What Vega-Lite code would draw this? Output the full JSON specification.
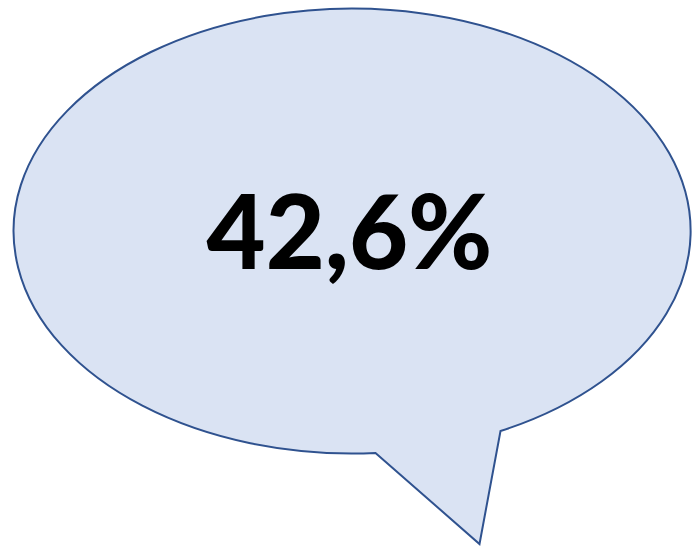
{
  "$schema": "https://vega.github.io/schema/vega-lite/v6.json",
  "width": 692,
  "height": 555,
  "autosize": {"type": "fit", "contains": "padding"},
  "padding": 0,
  "background": "white",
  "config": {"view": {"stroke": null}},
  "data": {"values": [{"label": "42,6%"}]},
  "encoding": {
    "x": {"field": "label", "type": "nominal", "axis": null},
    "y": {"field": "label", "type": "nominal", "axis": null}
  },
  "layer": [
    {
      "mark": {
        "type": "point",
        "shape": "M 158 153.5 A 338.5 222.5 0 1 0 33 175.5 L 137 266.5 Z",
        "size": 4,
        "filled": true,
        "fill": "#DAE3F3",
        "stroke": "#2F528F",
        "strokeWidth": 2,
        "opacity": 1
      }
    },
    {
      "mark": {
        "type": "text",
        "font": "Lato",
        "fontWeight": 900,
        "fontSize": 102,
        "align": "center",
        "baseline": "alphabetic",
        "dx": 7,
        "dy": -8.5,
        "color": "#000000"
      },
      "encoding": {"text": {"field": "label"}}
    }
  ]
}
